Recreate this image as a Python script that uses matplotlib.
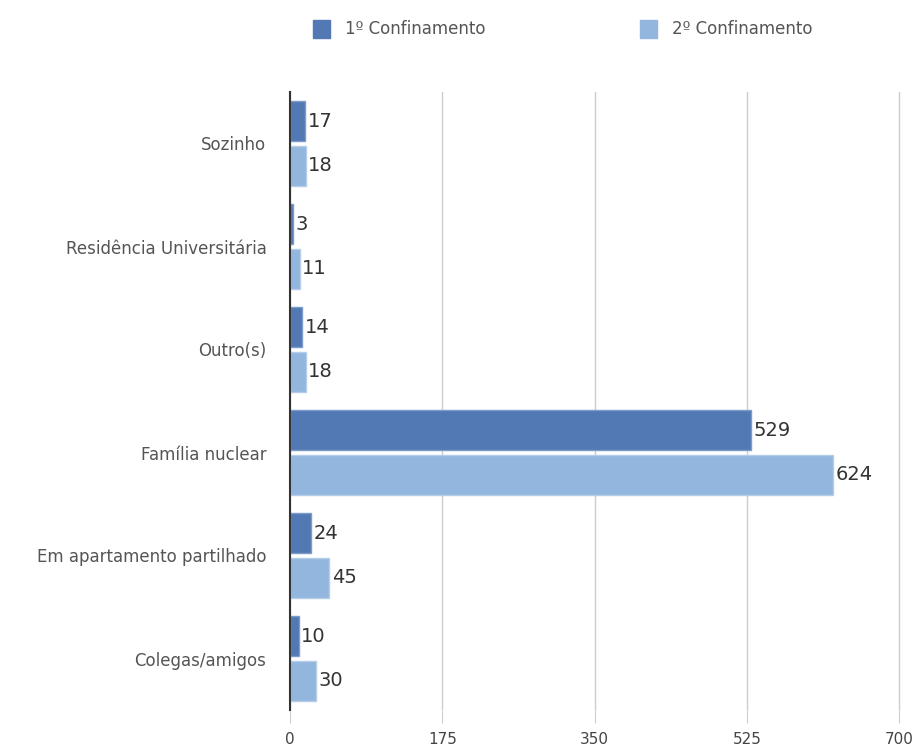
import numpy as np
import matplotlib
matplotlib.use("Agg")
import matplotlib.pyplot as plt

plt.rcParams['font.family'] = ['DejaVu Sans']

categories = ["Sozinho", "Residência Universitária", "Outro(s)", "Família nuclear",
              "Em apartamento partilhado", "Colegas/amigos"]
first = [17, 3, 14, 529, 24, 10]
second = [18, 11, 18, 624, 45, 30]
series_names = ["1º Confinamento", "2º Confinamento"]
ticks = [0, 175, 350, 525, 700]

dark = "#5279b3"
light = "#92b6de"

fig = plt.figure(figsize=(9.17, 7.49), dpi=100)
ax = fig.add_axes([290 / 917, 1 - 710 / 749, 612 / 917, 618 / 749])

y = np.arange(len(categories))
h = 0.39
off = 0.215
b1 = ax.barh(y - off, first, height=h, color=dark, edgecolor="#7d9cc9", linewidth=1, zorder=3)
b2 = ax.barh(y + off, second, height=h, color=light, edgecolor="#b5cde8", linewidth=1, zorder=3)

for bars, vals in ((b1, first), (b2, second)):
    for bar, v in zip(bars, vals):
        ax.text(v + 3, bar.get_y() + bar.get_height() / 2, str(v),
                va="center", ha="left", fontsize=14, color="#333333")

ax.set_ylim(len(categories) - 0.5, -0.5)
ax.set_xlim(0, 703)
ax.set_yticks(y)
ax.set_yticklabels(categories, fontsize=12, color="#555555")
ax.set_xticks(ticks)
ax.set_xticklabels([str(t) for t in ticks], fontsize=11, color="#444444")
ax.tick_params(axis="y", length=0, pad=17)
ax.tick_params(axis="x", length=9, color="#cccccc", pad=7)

ax.grid(axis="x", color="#cccccc", linewidth=1, zorder=0)
for s in ("top", "right", "bottom"):
    ax.spines[s].set_visible(False)
ax.spines["left"].set_color("#333333")
ax.spines["left"].set_linewidth(1.5)
ax.spines["left"].set_zorder(4)

# legend at top
fig.patches.append(plt.Rectangle((313 / 917, 1 - 38 / 749), 17 / 917, 18 / 749,
                                 transform=fig.transFigure, color=dark))
fig.text(345 / 917, 1 - 29 / 749, series_names[0], va="center", ha="left",
         fontsize=12, color="#555555")
fig.patches.append(plt.Rectangle((640 / 917, 1 - 38 / 749), 17 / 917, 18 / 749,
                                 transform=fig.transFigure, color=light))
fig.text(672 / 917, 1 - 29 / 749, series_names[1], va="center", ha="left",
         fontsize=12, color="#555555")

fig.savefig("out.png", dpi=100)
